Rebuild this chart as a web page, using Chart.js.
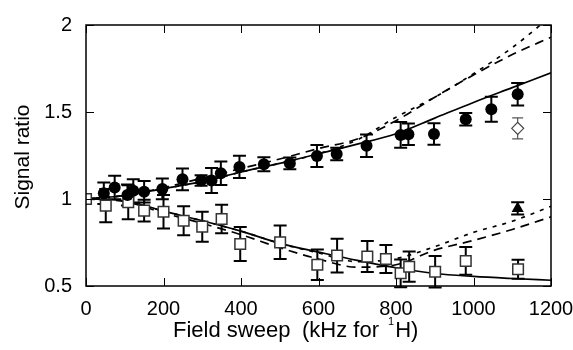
<!DOCTYPE html>
<html>
<head>
<meta charset="utf-8">
<title>Signal ratio vs field sweep</title>
<script src="https://cdn.jsdelivr.net/npm/chart.js@4.4.1/dist/chart.umd.min.js"></script>
<style>
    html, body { margin: 0; padding: 0; background: #fff; }
    #chart { display: block; }
</style>
</head>
<body>
<canvas id="chart" width="573" height="350"></canvas>
<script>
// Measured points, filled circles
const circleSweep = [46, 74, 107, 122, 150, 197, 249, 297, 324, 348, 396, 459, 526, 596, 647, 724, 812, 832, 898, 980, 1046, 1114];
const circleRatio = [1.033, 1.066, 1.023, 1.047, 1.042, 1.058, 1.113, 1.106, 1.106, 1.148, 1.184, 1.2, 1.205, 1.247, 1.259, 1.306, 1.368, 1.372, 1.374, 1.458, 1.516, 1.602];
const circleErr = [0.062, 0.068, 0.06, 0.067, 0.062, 0.06, 0.062, 0.03, 0.072, 0.068, 0.064, 0.04, 0.034, 0.063, 0.036, 0.064, 0.074, 0.062, 0.062, 0.036, 0.072, 0.065];

// Measured points, open squares
const squareSweep = [0, 51, 109, 150, 200, 252, 300, 350, 398, 501, 597, 648, 726, 774, 812, 834, 901, 980, 1115];
const squareRatio = [1.0, 0.962, 0.981, 0.933, 0.927, 0.875, 0.841, 0.885, 0.741, 0.751, 0.622, 0.675, 0.669, 0.655, 0.573, 0.611, 0.582, 0.644, 0.596];
const squareErr = [0, 0.096, 0.098, 0.062, 0.096, 0.083, 0.086, 0.082, 0.098, 0.096, 0.088, 0.097, 0.089, 0.08, 0.08, 0.087, 0.09, 0.08, 0.055];

// Single extra points
const diamondSweep = [1114];
const diamondRatio = [1.406];
const diamondErr = [0.06];
const triangleSweep = [1114];
const triangleRatio = [0.946];
const triangleErr = [0.035];

// Model curves
const curveSweep = [0, 100, 200, 300, 400, 500, 600, 700, 800, 900, 1000, 1100, 1200];
const upperSolid = [1.0, 1.02, 1.06, 1.10, 1.155, 1.205, 1.26, 1.315, 1.375, 1.465, 1.555, 1.64, 1.725];
const upperDash = [1.0, 1.02, 1.065, 1.12, 1.175, 1.23, 1.29, 1.345, 1.45, 1.585, 1.713, 1.83, 1.93];
const upperDot = [1.0, 1.02, 1.06, 1.10, 1.155, 1.205, 1.26, 1.34, 1.47, 1.585, 1.72, 1.87, 2.05];
const lowerSolid = [1.0, 0.99, 0.93, 0.875, 0.815, 0.745, 0.695, 0.647, 0.605, 0.572, 0.555, 0.543, 0.533];
const lowerDash = [1.0, 0.985, 0.92, 0.86, 0.795, 0.72, 0.655, 0.608, 0.622, 0.706, 0.762, 0.825, 0.897];
const lowerDot = [1.0, 0.99, 0.93, 0.875, 0.815, 0.745, 0.69, 0.64, 0.658, 0.726, 0.808, 0.872, 0.958];

// Axis ticks and titles
const xTicks = [0, 200, 400, 600, 800, 1000, 1200];
const yTicks = [0.5, 1, 1.5, 2];
const xTitle = ['Field sweep', '(kHz for ', '1', 'H)'];
const yTitle = 'Signal ratio';

const FONT = "'Liberation Sans', Arial, sans-serif";

function toPoints(xs, ys) {
    return xs.map(function(x, i) { return { x: x, y: ys[i] }; });
}

function pointSet(xs, ys, errs, style) {
    return Object.assign({
        type: 'scatter',
        data: toPoints(xs, ys),
        errors: errs,
        showLine: false
    }, style);
}

function curveSet(ys, dash) {
    return {
        type: 'line',
        data: toPoints(curveSweep, ys),
        borderColor: '#000',
        borderWidth: 1.7,
        borderDash: dash,
        pointRadius: 0,
        fill: false,
        cubicInterpolationMode: 'monotone'
    };
}

// Error bars with caps, drawn under the markers
const errorBars = {
    id: 'errorBars',
    beforeDatasetsDraw: function(chart) {
        const ctx = chart.ctx;
        const xs = chart.scales.x;
        const ys = chart.scales.y;
        ctx.save();
        chart.data.datasets.forEach(function(ds) {
            if (!ds.errors) return;
            ctx.strokeStyle = ds.errColor || '#000';
            ctx.lineWidth = ds.errWidth || 2;
            ds.data.forEach(function(p, i) {
                const e = ds.errors[i];
                if (!e) return;
                const px = xs.getPixelForValue(p.x);
                const top = ys.getPixelForValue(p.y + e);
                const bot = ys.getPixelForValue(p.y - e);
                const cap = ds.capHalf || 6.5;
                ctx.beginPath();
                ctx.moveTo(px, top);
                ctx.lineTo(px, bot);
                ctx.moveTo(px - cap, top);
                ctx.lineTo(px + cap, top);
                ctx.moveTo(px - cap, bot);
                ctx.lineTo(px + cap, bot);
                ctx.stroke();
            });
        });
        ctx.restore();
    }
};

// Box frame with inward ticks on all four sides, plus axis titles
const frameTicks = {
    id: 'frameTicks',
    afterDraw: function(chart) {
        const ctx = chart.ctx;
        const a = chart.chartArea;
        const xs = chart.scales.x;
        const ys = chart.scales.y;
        const len = 8;
        ctx.save();
        ctx.strokeStyle = '#000';
        ctx.lineWidth = 1.5;
        ctx.strokeRect(a.left, a.top, a.right - a.left, a.bottom - a.top);
        ctx.beginPath();
        xTicks.forEach(function(v) {
            const px = Math.round(xs.getPixelForValue(v)) + 0.5;
            ctx.moveTo(px, a.bottom);
            ctx.lineTo(px, a.bottom - len);
            ctx.moveTo(px, a.top);
            ctx.lineTo(px, a.top + len);
        });
        yTicks.forEach(function(v) {
            const py = Math.round(ys.getPixelForValue(v)) + 0.5;
            ctx.moveTo(a.left, py);
            ctx.lineTo(a.left + len, py);
            ctx.moveTo(a.right, py);
            ctx.lineTo(a.right - len, py);
        });
        ctx.lineWidth = 1;
        ctx.stroke();

        // x title, with a small raised "1" before H
        ctx.fillStyle = '#000';
        ctx.textBaseline = 'alphabetic';
        ctx.textAlign = 'left';
        ctx.font = '22px ' + FONT;
        let x = 173;
        const base = 337;
        ctx.fillText(xTitle[0], x, base);
        x = 302;
        ctx.fillText(xTitle[1], x, base);
        x += ctx.measureText(xTitle[1]).width + 3;
        ctx.font = '11px ' + FONT;
        ctx.fillText(xTitle[2], x, base - 12);
        x += ctx.measureText(xTitle[2]).width + 1;
        ctx.font = '22px ' + FONT;
        ctx.fillText(xTitle[3], x, base);

        // y title, rotated
        ctx.translate(23, 157);
        ctx.rotate(-Math.PI / 2);
        ctx.textAlign = 'center';
        ctx.textBaseline = 'middle';
        ctx.font = '21px ' + FONT;
        ctx.fillText(yTitle, 0, 0);
        ctx.restore();
    }
};

const ctx = document.getElementById('chart').getContext('2d');

new Chart(ctx, {
    data: {
        datasets: [
            pointSet(circleSweep, circleRatio, circleErr, {
                pointStyle: 'circle', pointRadius: 6, backgroundColor: '#000', borderColor: '#000', borderWidth: 0
            }),
            pointSet(squareSweep, squareRatio, squareErr, {
                pointStyle: 'rect', pointRadius: 7.5, backgroundColor: '#fff', borderColor: '#333', borderWidth: 1.5
            }),
            pointSet(diamondSweep, diamondRatio, diamondErr, {
                pointStyle: 'rectRot', pointRadius: 6, backgroundColor: '#fff', borderColor: '#444', borderWidth: 1.2,
                errColor: '#555', errWidth: 1.2, capHalf: 5.5
            }),
            pointSet(triangleSweep, triangleRatio, triangleErr, {
                pointStyle: 'triangle', pointRadius: 7, backgroundColor: '#000', borderColor: '#000', borderWidth: 0
            }),
            curveSet(upperSolid, []),
            curveSet(upperDash, [9, 6]),
            curveSet(upperDot, [4, 6]),
            curveSet(lowerSolid, []),
            curveSet(lowerDash, [9, 6]),
            curveSet(lowerDot, [4, 6])
        ]
    },
    options: {
        responsive: false,
        animation: false,
        devicePixelRatio: 1,
        layout: { padding: { top: 25, right: 22, left: 0, bottom: 0 } },
        plugins: {
            legend: { display: false },
            tooltip: { enabled: false }
        },
        scales: {
            x: {
                type: 'linear',
                min: 0,
                max: 1200,
                afterFit: function(scale) {
                    scale.height = 64;
                    scale.paddingLeft = 0;
                    scale.paddingRight = 0;
                },
                afterBuildTicks: function(scale) {
                    scale.ticks = xTicks.map(function(v) { return { value: v }; });
                },
                grid: { display: false },
                border: { display: false },
                ticks: {
                    color: '#000',
                    padding: 3,
                    maxRotation: 0,
                    font: { family: FONT, size: 20 },
                    callback: function(v) { return String(v); }
                }
            },
            y: {
                type: 'linear',
                min: 0.5,
                max: 2,
                afterFit: function(scale) {
                    scale.width = 86;
                    scale.paddingTop = 0;
                    scale.paddingBottom = 0;
                },
                afterBuildTicks: function(scale) {
                    scale.ticks = yTicks.map(function(v) { return { value: v }; });
                },
                grid: { display: false },
                border: { display: false },
                ticks: {
                    color: '#000',
                    padding: 6,
                    font: { family: FONT, size: 20 },
                    callback: function(v) { return String(v); }
                }
            }
        }
    },
    plugins: [errorBars, frameTicks]
});
</script>
</body>
</html>
